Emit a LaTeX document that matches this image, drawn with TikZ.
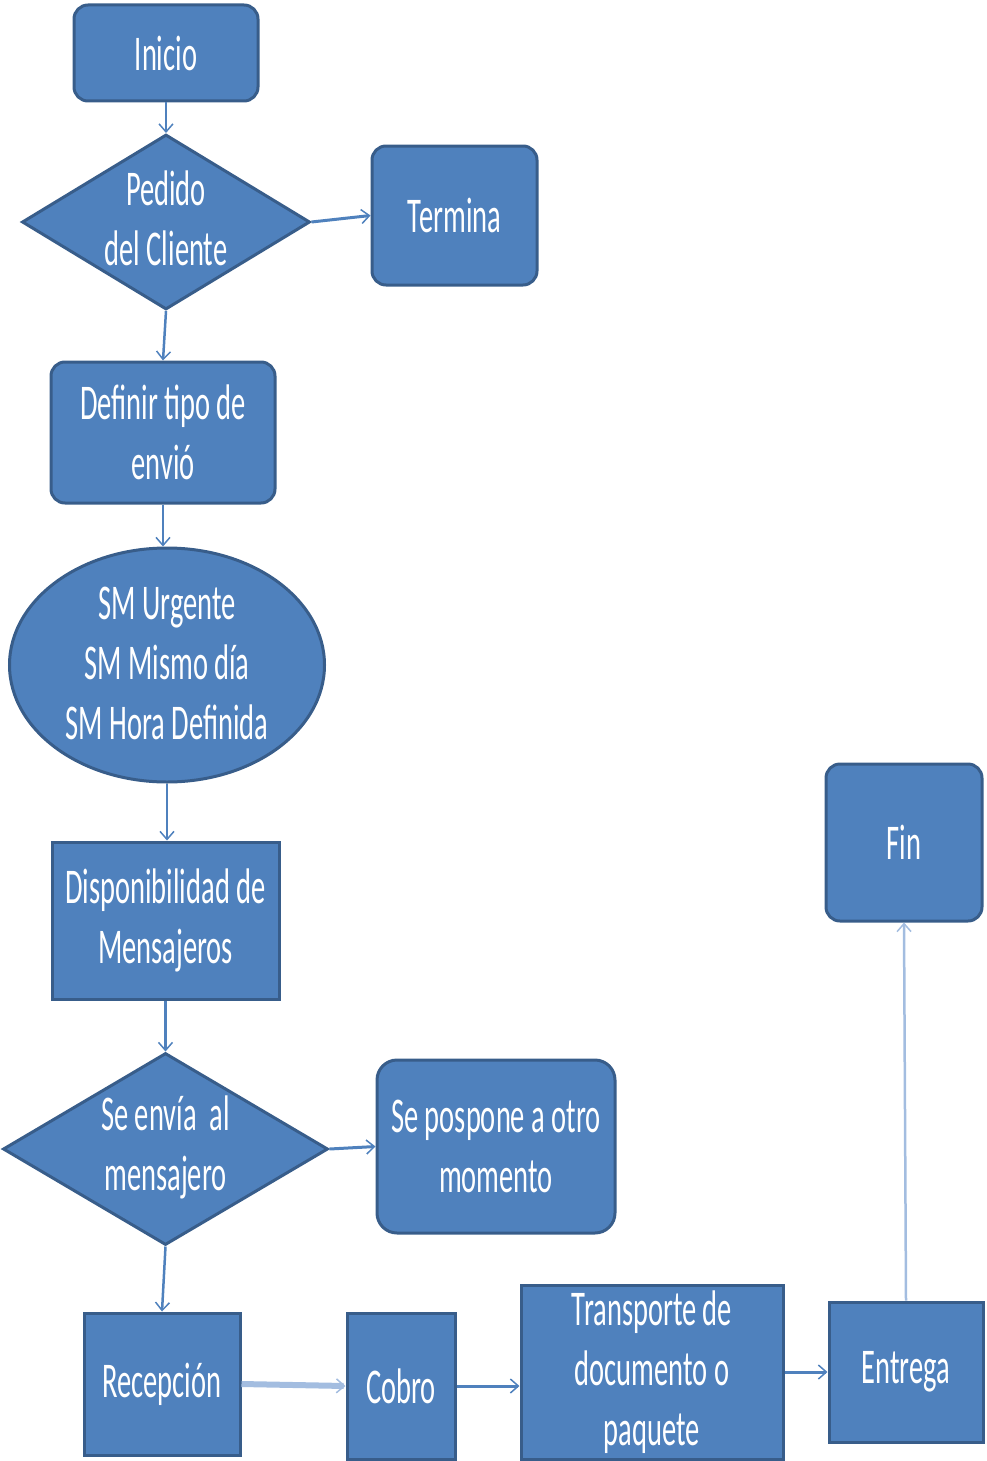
\documentclass[tikz,border=0pt]{standalone}
\usepackage{fontspec}
\newfontfamily\flowfont{Carlito}[FakeStretch=0.57]
\usetikzlibrary{shapes.geometric,arrows.meta}
\definecolor{boxfill}{HTML}{4F81BD}
\definecolor{boxline}{HTML}{385D8A}
\definecolor{linkblue}{HTML}{4F81BD}
\definecolor{linklight}{HTML}{A3BDE0}
\begin{document}
\begin{tikzpicture}[x=1pt,y=-1pt,
  base/.style={draw=boxline, fill=boxfill, line width=3pt, inner sep=0pt},
  roundbox/.style={base, rectangle, rounded corners=14pt},
  sqbox/.style={base, rectangle},
  decision/.style={base, diamond},
  oval/.style={base, ellipse},
  txt/.style={text=white, font=\flowfont\fontsize{50}{60}\selectfont, align=center, inner sep=0pt},
  link/.style={draw=linkblue, line width=2.5pt, -{Straight Barb[length=8pt,width=14pt,line width=1.5pt]}},
  lightlink/.style={link, draw=linklight},
]
\useasboundingbox (0,0) rectangle (986,1461);

% start and first decision
\node[roundbox, txt, minimum width=184, minimum height=96] (inicio) at (166,53) {Inicio};
\node[decision, minimum width=288, minimum height=175] (pedido) at (166,222) {};
\node[txt] (pedidotxt) at ([yshift=4pt]pedido.center) {Pedido\\del Cliente};
\node[roundbox, txt, minimum width=165, minimum height=139] (termina) at (454.5,215.5) {Termina};

% shipment type
\node[roundbox, txt, minimum width=224, minimum height=141] (definir) at (163,432.5) {Definir tipo de\\envió};
\node[oval, minimum width=315, minimum height=234] (tipos) at (167,665) {};
\node[txt] (tipostxt) at ([yshift=2pt]tipos.center) {SM Urgente\\SM Mismo día\\SM Hora Definida};

% courier availability
\node[sqbox, txt, minimum width=227, minimum height=157] (dispo) at (165.5,920.5) {Disponibilidad de\\Mensajeros};
\node[decision, minimum width=325, minimum height=192] (envia) at (165.5,1149) {};
\node[txt] (enviatxt) at ([yshift=2pt]envia.center) {Se envía\ \ al\\mensajero};
\node[roundbox, txt, rounded corners=20pt, minimum width=238, minimum height=173] (pospone) at (496,1146.5) {Se pospone a otro\\momento};

% delivery chain
\node[sqbox, txt, minimum width=156, minimum height=142] (recepcion) at (162,1384) {Recepción};
\node[sqbox, txt, minimum width=108, minimum height=146] (cobro) at (401,1386) {Cobro};
\node[sqbox, txt, minimum width=262, minimum height=174] (transporte) at (652,1372) {Transporte de\\documento o\\paquete};
\node[sqbox, txt, minimum width=154, minimum height=140] (entrega) at (906,1372) {Entrega};
\node[roundbox, txt, minimum width=156, minimum height=157] (fin) at (904,842.5) {Fin};

% connectors
\draw[link] (inicio.south) -- (pedido.north);
\draw[link, line width=3pt] (pedido.east) -- (termina.west);
\draw[link] (pedido.south) -- (definir.north);
\draw[link] (definir.south) -- (definir.south |- tipos.north);
\draw[link] (tipos.south) -- (tipos.south |- dispo.north);
\draw[link] (dispo.south) -- (envia.north);
\draw[link, line width=3pt] (envia.east) -- (pospone.west);
\draw[link] (envia.south) -- (recepcion.north);
\draw[lightlink, line width=6pt] (recepcion.east) -- (cobro.west);
\draw[link, line width=3pt] (cobro.west -| cobro.east) -- (transporte.west |- cobro.east);
\draw[link, line width=3pt] (transporte.east) -- (entrega.west);
\draw[lightlink, line width=2.5pt] (entrega.north) -- (fin.south);
\end{tikzpicture}
\end{document}
